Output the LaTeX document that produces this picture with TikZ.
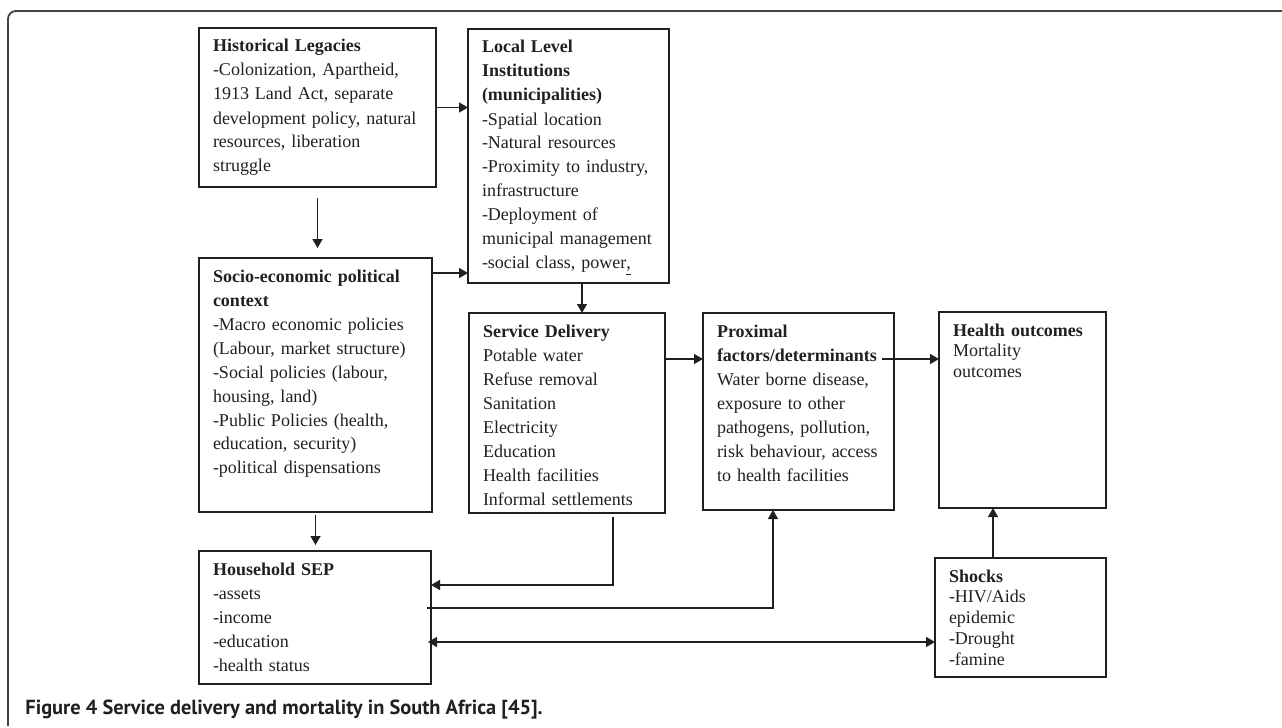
\documentclass[tikz,border=0pt]{standalone}
\usepackage{fontspec}
\setmainfont{Liberation Serif}
\newfontfamily\capfont{PT Sans}
\usetikzlibrary{arrows.meta}
\definecolor{ink}{HTML}{231F20}

\begin{document}
\begin{tikzpicture}[x=0.5pt,y=-0.5pt,
  box/.style={draw=ink,line width=1pt,anchor=north west,align=left,inner xsep=7pt,inner ysep=5pt,outer sep=0pt,text height=7pt,text=ink,font=\fontsize{9}{12}\selectfont},
  tight/.style={font=\fontsize{9}{10.4}\selectfont},
  link/.style={draw=ink,line width=0.7pt},
  arr/.style={link,-{Triangle[length=4.5pt,width=5pt]}},
  arrboth/.style={link,{Triangle[length=4.5pt,width=5pt]}-{Triangle[length=4.5pt,width=5pt]}}]
\useasboundingbox (0,0) rectangle (1282,728);
\draw[ink!85,line width=0.9pt,rounded corners=4pt] (1282,11) -- (8,11) -- (8,726);

\node[box,text width=104.5pt,text depth=62.5pt] (hist) at (199,28) {\textbf{Historical Legacies}\\-Colonization, Apartheid,\\1913 Land Act, separate\\development policy, natural\\resources, liberation\\struggle};
\node[box,text width=86.5pt,text depth=110pt] (local) at (468,29) {\textbf{Local Level}\\\textbf{Institutions}\\\textbf{(municipalities)}\\-Spatial location\\-Natural resources\\-Proximity to industry,\\infrastructure\\-Deployment of\\municipal management\\-social class, power\underline{,}};
\node[box,text width=102.5pt,text depth=110pt] (socio) at (199,258) {\textbf{Socio-economic political}\\\textbf{context}\\-Macro economic policies\\(Labour, market structure)\\-Social policies (labour,\\housing, land)\\-Public Policies (health,\\education, security)\\-political dispensations};
\node[box,text width=84pt,text depth=83pt] (service) at (469,313) {\textbf{Service Delivery}\\Potable water\\Refuse removal\\Sanitation\\Electricity\\Education\\Health facilities\\Informal settlements};
\node[box,text width=81.5pt,text depth=81.5pt] (prox) at (703,313) {\textbf{Proximal}\\\textbf{factors/determinants}\\Water borne disease,\\exposure to other\\pathogens, pollution,\\risk behaviour, access\\to health facilities};
\node[box,tight,text width=69.5pt,text depth=81pt] (health) at (939,312) {\textbf{Health outcomes}\\Mortality\\outcomes};
\node[box,text width=102pt,text depth=49.5pt] (household) at (199,551) {\textbf{Household SEP}\\-assets\\-income\\-education\\-health status};
\node[box,tight,text width=71.5pt,text depth=42.5pt] (shocks) at (935,558) {\textbf{Shocks}\\-HIV/Aids\\epidemic\\-Drought\\-famine};

\draw[arr] (hist.east) -- (hist.east -| local.west);
\draw[arr] ([yshift=-5.5pt]hist.south) -- ([yshift=5pt]hist.south |- socio.north);
\draw[arr] ([yshift=-7.5pt]socio.north east) -- ([yshift=-7.5pt]socio.north east -| local.west);
\draw[arr] ([xshift=6.75pt]local.south) -- ([xshift=6.75pt]local.south |- service.north);
\draw[arr] ([yshift=-23pt]service.north east) -- ([yshift=-23pt]service.north east -| prox.west);
\draw[arr] ([xshift=-6pt,yshift=-23pt]prox.north east) -- ([yshift=-23pt]prox.north east -| health.west);
\draw[arr] ([yshift=-1.5pt]socio.south) -- ([yshift=3pt]socio.south |- household.north);
\draw[arr] ([xshift=23pt,yshift=-2pt]service.south) |- ([yshift=-17pt]household.north east);
\draw[arr] ([xshift=-2pt,yshift=-28.5pt]household.north east) -| ([xshift=-12.75pt]prox.south);
\draw[arrboth] ([xshift=-1.5pt,yshift=-45.5pt]household.north east) -- ([yshift=-45.5pt]household.north east -| shocks.west);
\draw[arr] ([xshift=-13.75pt]shocks.north) -- ([xshift=-13.75pt]shocks.north |- health.south);

\node[anchor=base west,inner sep=0pt,text=ink,font=\capfont\bfseries\fontsize{10.2}{12}\selectfont] (cap) at (25,714) {Figure 4 Service delivery and mortality in South Africa [45].};
\end{tikzpicture}
\end{document}
